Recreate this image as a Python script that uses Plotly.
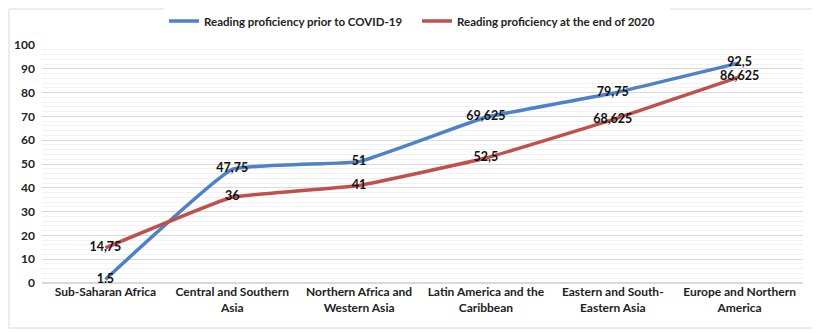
import plotly.graph_objects as go

regions = ["Sub-Saharan Africa", "Central and Southern<br>Asia", "Northern Africa and<br>Western Asia",
           "Latin America and the<br>Caribbean", "Eastern and South-<br>Eastern Asia", "Europe and Northern<br>America"]
before_covid = [1.5, 47.75, 51, 69.625, 79.75, 92.5]
end_2020 = [14.75, 36, 41, 52.5, 68.625, 86.625]

font = "Lato, 'Open Sans', sans-serif"

# page has an 8px body margin, so the figure is a bit smaller than the window
W, H = 812, 325


def label(v):
    return str(v).replace(".", ",")  # comma decimals like the original


fig = go.Figure()
fig.add_trace(go.Scatter(x=regions, y=before_covid, name="Reading proficiency prior to COVID-19",
                         mode="lines+text", text=[label(v) for v in before_covid],
                         textposition="middle center",
                         textfont=dict(family=font, size=12.5, color="#111111", weight="bold"),
                         line=dict(color="#4f81c7", width=3.5, shape="spline", smoothing=0.3)))
fig.add_trace(go.Scatter(x=regions, y=end_2020, name="Reading proficiency at the end of 2020",
                         mode="lines+text", text=[label(v) for v in end_2020],
                         textposition="middle center",
                         textfont=dict(family=font, size=12.5, color="#111111", weight="bold"),
                         line=dict(color="#c0504d", width=3.5, shape="spline", smoothing=0.3)))

fig.update_layout(
    width=W, height=H,
    margin=dict(l=34, r=17, t=37, b=50, autoexpand=False),
    paper_bgcolor="white", plot_bgcolor="white",
    font=dict(family=font, size=12, color="#222222", weight="bold"),
    showlegend=True,
    legend=dict(orientation="h", x=(164 - 8) / W, xanchor="left", xref="container",
                y=1 - 13 / H, yanchor="middle", yref="container",
                font=dict(size=11.5, weight="bold"), itemwidth=30, tracegroupgap=0,
                entrywidth=208, entrywidthmode="pixels"),
    xaxis=dict(range=[-0.5, 5.5], showgrid=False, showline=False, ticks="",
               tickfont=dict(size=12), automargin=False),
    yaxis=dict(range=[0, 100], dtick=10, showgrid=True, gridcolor="#d9d9d9", gridwidth=1,
               zeroline=True, zerolinecolor="#d9d9d9", showline=False, ticks="",
               tickfont=dict(size=12), ticklabelstandoff=6, automargin=False,
               minor=dict(dtick=2, showgrid=True, gridcolor="#f2f2f2", gridwidth=1)),
    shapes=[dict(type="rect", xref="paper", yref="paper",
                 x0=(1 - 34) / 761, x1=(807 - 34) / 761,
                 y0=-(50 - 5) / 238, y1=(238 + 36) / 238,
                 line=dict(color="#d9d9d9", width=1), fillcolor="rgba(0,0,0,0)", layer="below")],
)

fig.write_html("out.html")
